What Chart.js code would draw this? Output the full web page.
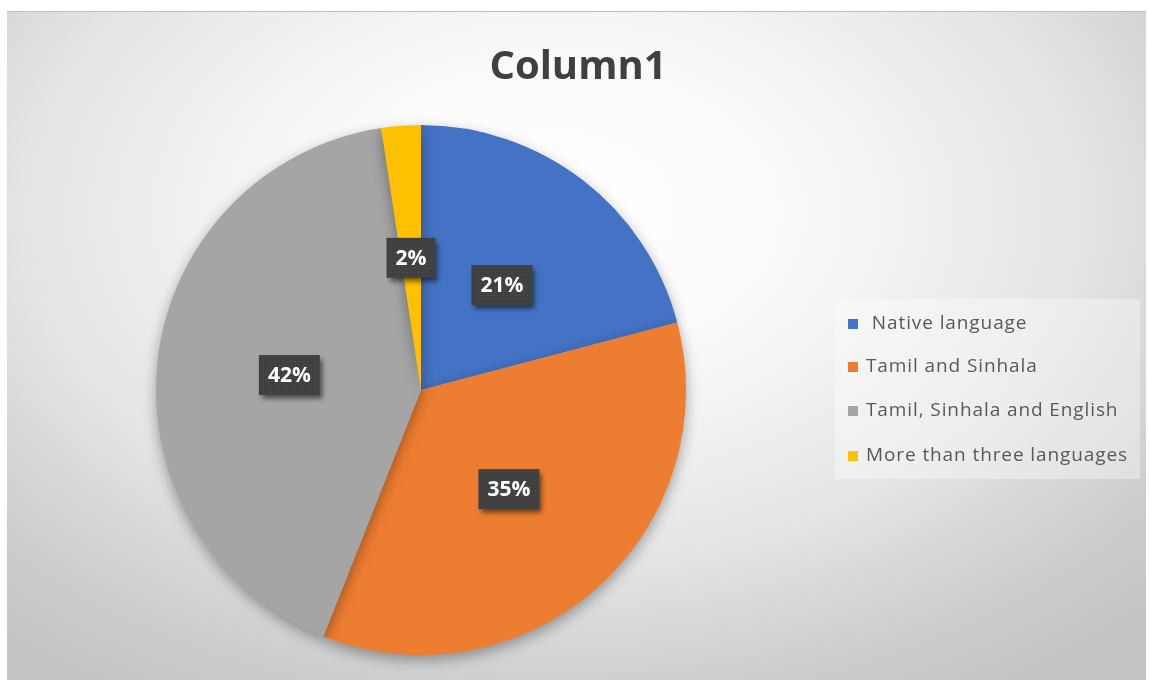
<!DOCTYPE html>
<html>
<head>
<meta charset="utf-8">
<script src="https://cdn.jsdelivr.net/npm/chart.js@4.4.1/dist/chart.umd.min.js"></script>
<style>
  html, body { margin: 0; padding: 0; background: #ffffff; width: 1149px; height: 680px; overflow: hidden; }
  #wrap {
    position: absolute; left: 7px; top: 11px; width: 1139px; height: 669px;
    border-top: 1px solid #c0c0c0;
    box-sizing: border-box;
    background: radial-gradient(ellipse 75% 85% at 48% 30%, #ffffff 0%, #fbfbfb 25%, #e6e6e6 60%, #cdcdcd 85%, #c4c4c4 100%);
  }
  canvas { display: block; }
</style>
</head>
<body>
<div id="wrap"><canvas id="c" width="1139" height="668"></canvas></div>
<script>
const titleText = "Column1";
const categories = ["Native language", "Tamil and Sinhala", "Tamil, Sinhala and English", "More than three languages"];
const legendText = [" Native language", "Tamil and Sinhala", "Tamil, Sinhala and English", "More than three languages"];
const values = [20.9, 35.1, 41.6, 2.4];
const percentLabels = ["21%", "35%", "42%", "2%"];
const colors = ["#4472C4", "#ED7D31", "#A5A5A5", "#FFC000"];

const shadowPlugin = {
  id: 'pieShadow',
  beforeDatasetsDraw(chart) {
    const ctx = chart.ctx;
    ctx.save();
    ctx.shadowColor = 'rgba(0,0,0,0.35)';
    ctx.shadowBlur = 14;
    ctx.shadowOffsetX = 0;
    ctx.shadowOffsetY = 5;
  },
  afterDatasetsDraw(chart) {
    chart.ctx.restore();
  }
};

const titlePlugin = {
  id: 'customTitle',
  afterDraw(chart) {
    const ctx = chart.ctx;
    ctx.save();
    ctx.font = "bold 40px 'Open Sans'";
    ctx.fillStyle = '#404040';
    ctx.textAlign = 'center';
    ctx.textBaseline = 'alphabetic';
    ctx.fillText(titleText, 571, 67);
    ctx.restore();
  }
};

const labelPlugin = {
  id: 'pctLabels',
  afterDatasetsDraw(chart) {
    const ctx = chart.ctx;
    const meta = chart.getDatasetMeta(0);
    ctx.save();
    ctx.font = "bold 21px 'Open Sans'";
    meta.data.forEach((arc, i) => {
      const p = arc.tooltipPosition();
      const txt = percentLabels[i];
      const w = ctx.measureText(txt).width + 18;
      const h = 40;
      const x = p.x - w / 2, y = p.y - h / 2;
      ctx.save();
      ctx.shadowColor = 'rgba(0,0,0,0.55)';
      ctx.shadowBlur = 5;
      ctx.shadowOffsetX = 3;
      ctx.shadowOffsetY = 4;
      ctx.fillStyle = '#404040';
      ctx.fillRect(x, y, w, h);
      ctx.restore();
      // dotted texture
      ctx.fillStyle = 'rgba(90,90,90,0.8)';
      for (let yy = y + 2; yy < y + h; yy += 4) {
        for (let xx = x + 2 + ((yy - y) % 8 ? 2 : 0); xx < x + w; xx += 4) {
          ctx.fillRect(xx, yy, 1, 1);
        }
      }
      ctx.fillStyle = '#ffffff';
      ctx.textAlign = 'center';
      ctx.textBaseline = 'middle';
      ctx.fillText(txt, p.x, p.y + 1);
    });
    ctx.restore();
  }
};

const legendPlugin = {
  id: 'customLegend',
  afterDraw(chart) {
    const ctx = chart.ctx;
    ctx.save();
    const bx = 828, by = 287, bw = 305, bh = 180;
    ctx.fillStyle = 'rgba(255,255,255,0.35)';
    ctx.fillRect(bx, by, bw, bh);
    ctx.font = "19px 'Open Sans'";
    if ('letterSpacing' in ctx) ctx.letterSpacing = '0.9px';
    ctx.textBaseline = 'middle';
    ctx.textAlign = 'left';
    const rows = [312, 355, 399, 444];
    legendText.forEach((t, i) => {
      ctx.fillStyle = colors[i];
      ctx.fillRect(841, rows[i] - 5, 10, 10);
      ctx.fillStyle = '#595959';
      ctx.fillText(t, 859, rows[i]);
    });
    ctx.restore();
  }
};

new Chart(document.getElementById('c'), {
  type: 'pie',
  data: {
    labels: categories,
    datasets: [{
      data: values,
      backgroundColor: colors,
      borderWidth: 0
    }]
  },
  options: {
    responsive: false,
    animation: false,
    rotation: 0,
    layout: { padding: { left: 149, right: 460, top: 113, bottom: 25 } },
    plugins: {
      legend: { display: false },
      title: { display: false },
      tooltip: { enabled: false }
    }
  },
  plugins: [shadowPlugin, labelPlugin, titlePlugin, legendPlugin]
});
</script>
</body>
</html>
